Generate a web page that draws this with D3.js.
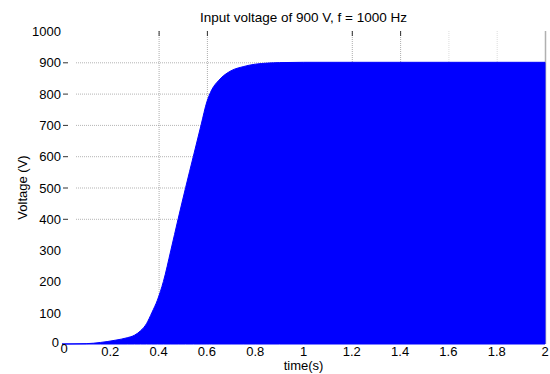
<!DOCTYPE html>
<html>
<head>
<meta charset="utf-8">
<script src="https://cdn.jsdelivr.net/npm/d3@7"></script>
<style>
  body { margin: 0; background: #fff; }
  text { font-family: "Liberation Sans", Arial, sans-serif; fill: #000; }
</style>
</head>
<body>
<div id="chart"></div>
<script>
// envelope of the voltage (V vs s)
const times = [0, 0.1, 0.16, 0.22, 0.27, 0.3, 0.325, 0.35, 0.372, 0.395, 0.42, 0.451, 0.481, 0.512, 0.544, 0.576, 0.6, 0.61, 0.62, 0.65, 0.7, 0.75, 0.8, 0.9, 1.0, 2.0];
const volts = [0, 1, 5, 12, 20, 28, 42, 65, 100, 140, 200, 300, 400, 500, 600, 700, 774, 795, 812, 843, 873, 886, 894, 899, 900, 900];

const xTicks = [0, 0.2, 0.4, 0.6, 0.8, 1, 1.2, 1.4, 1.6, 1.8, 2];
const yTicks = [0, 100, 200, 300, 400, 500, 600, 700, 800, 900, 1000];
// grid / tick marks that show in the picture
const hGrid = [400, 500, 600, 700, 800, 900];
const vGrid = [0.4, 0.6, 1.2, 1.4, 1.6, 1.8];
const topTicks = [0.4, 0.6, 1.2, 1.4];
const leftTicks = [400, 500, 600, 700, 800, 900];

const title = "Input voltage of 900 V, f = 1000 Hz";

const width = 550, height = 374;
const svg = d3.select("#chart").append("svg")
  .attr("width", width)
  .attr("height", height);

const x = d3.scaleLinear().domain([0, 2]).range([62, 545]);
const y = d3.scaleLinear().domain([0, 1000]).range([344, 31]);

const data = times.map((t, i) => ({t: t, v: volts[i]}));

// right edge of the axes box
svg.append("line")
  .attr("x1", x(2) + 0.5).attr("x2", x(2) + 0.5)
  .attr("y1", y(1000)).attr("y2", y(0))
  .attr("stroke", "#b0b0b0")
  .attr("stroke-width", 1.5);

// grid
svg.selectAll(".hgrid")
  .data(hGrid)
  .enter()
  .append("line")
  .attr("x1", 76).attr("x2", x(2))
  .attr("y1", d => y(d) + 0.5).attr("y2", d => y(d) + 0.5)
  .attr("stroke", "#777")
  .attr("stroke-opacity", 0.55)
  .attr("stroke-dasharray", "1,1");

svg.selectAll(".vgrid")
  .data(vGrid)
  .enter()
  .append("line")
  .attr("x1", d => x(d) + 0.5).attr("x2", d => x(d) + 0.5)
  .attr("y1", y(1000)).attr("y2", y(0))
  .attr("stroke", "#777")
  .attr("stroke-opacity", d => d > 1.5 ? 0.25 : 0.6)
  .attr("stroke-dasharray", "1,1");

// the signal, filled between zero and its envelope
const area = d3.area()
  .x(d => x(d.t))
  .y0(y(0))
  .y1(d => y(d.v))
  .curve(d3.curveMonotoneX);

svg.append("path")
  .datum(data)
  .attr("d", area)
  .attr("fill", "#0000ff")
  .attr("stroke", "#0000ff")
  .attr("stroke-width", 1);

// tick marks
svg.selectAll(".ttick")
  .data(topTicks)
  .enter()
  .append("line")
  .attr("x1", d => x(d) + 0.5).attr("x2", d => x(d) + 0.5)
  .attr("y1", y(1000)).attr("y2", y(1000) + 5)
  .attr("stroke", "#333");

svg.selectAll(".ltick")
  .data(leftTicks)
  .enter()
  .append("line")
  .attr("x1", x(0) + 1).attr("x2", x(0) + 6)
  .attr("y1", d => y(d) + 0.5).attr("y2", d => y(d) + 0.5)
  .attr("stroke", "#333");

// tick labels (the two zeros sit MATLAB-style at the corner)
svg.selectAll(".ylab")
  .data(yTicks)
  .enter()
  .append("text")
  .attr("x", d => d === 0 ? 59 : 61)
  .attr("y", d => d === 0 ? y(d) + 3 : y(d) + 5)
  .attr("text-anchor", "end")
  .style("font-size", "13px")
  .text(d => d);

svg.selectAll(".xlab")
  .data(xTicks)
  .enter()
  .append("text")
  .attr("x", d => d === 0 ? x(d) + 2 : x(d))
  .attr("y", d => d === 0 ? 353 : 356)
  .attr("text-anchor", "middle")
  .style("font-size", "13px")
  .text(d => d);

svg.append("text")
  .attr("x", (x(0) + x(2)) / 2)
  .attr("y", 370)
  .attr("text-anchor", "middle")
  .style("font-size", "13px")
  .text("time(s)");

svg.append("text")
  .attr("transform", "translate(27," + ((y(0) + y(1000)) / 2) + ") rotate(-90)")
  .attr("text-anchor", "middle")
  .style("font-size", "13px")
  .text("Voltage (V)");

svg.append("text")
  .attr("x", (x(0) + x(2)) / 2)
  .attr("y", 22)
  .attr("text-anchor", "middle")
  .style("font-size", "13.5px")
  .text(title);
</script>
</body>
</html>
